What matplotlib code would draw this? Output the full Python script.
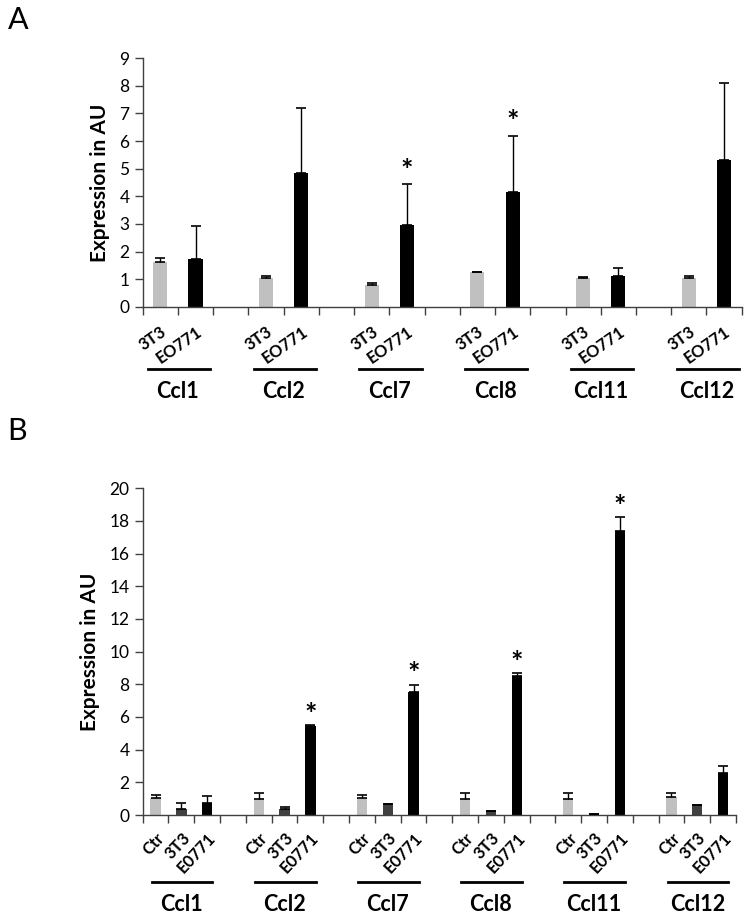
import numpy as np
import matplotlib
matplotlib.use('Agg')
import matplotlib.pyplot as plt
import matplotlib.transforms as mtransforms

plt.rcParams['font.family'] = ['Lato', 'DejaVu Sans']

genes = ['Ccl1', 'Ccl2', 'Ccl7', 'Ccl8', 'Ccl11', 'Ccl12']

# panel A : 3T3 vs EO771
a_labels = ['3T3', 'EO771']
a_3t3 = [1.64, 1.04, 0.79, 1.25, 1.06, 1.04]
a_3t3_err = [0.14, 0.08, 0.09, 0.02, 0.01, 0.08]
a_eo771 = [1.74, 4.83, 2.95, 4.15, 1.12, 5.30]
a_eo771_err = [1.20, 2.37, 1.48, 2.02, 0.28, 2.80]
a_sig = [False, False, True, True, False, False]

# panel B : Ctr vs 3T3 vs E0771
b_labels = ['Ctr', '3T3', 'E0771']
b_ctr = [1.02, 0.98, 1.02, 0.98, 0.98, 1.08]
b_ctr_err = [0.20, 0.35, 0.20, 0.35, 0.35, 0.25]
b_3t3 = [0.35, 0.39, 0.65, 0.24, 0.04, 0.59]
b_3t3_err = [0.36, 0.08, 0.02, 0.03, 0.0, 0.0]
b_e0771 = [0.76, 5.47, 7.51, 8.51, 17.41, 2.59]
b_e0771_err = [0.40, 0.03, 0.45, 0.16, 0.81, 0.41]
b_sig = [False, True, True, True, True, False]

light = '#c0c0c0'
dark = '#404040'
black = '#000000'


def draw_panel(ax, series, errs, colors, labels, sig, ymax, ystep,
               rot, pad, line_y, text_y, line_span, star_off):
    n = len(series)
    nslots = len(genes) * (n + 1) - 1
    centers, ticklabels = [], []
    for j, (vals, err, col) in enumerate(zip(series, errs, colors)):
        x = np.arange(len(genes)) * (n + 1) + j + 0.5
        ax.bar(x, vals, width=0.4, color=col, zorder=2)
        ax.errorbar(x, vals, yerr=[np.zeros(len(err)), err], fmt='none',
                    ecolor='black', elinewidth=1, capsize=3.5, capthick=1.2, zorder=3)
        centers += list(x)
        ticklabels += [labels[j]] * len(genes)
    # significance stars on the last series
    last_x = np.arange(len(genes)) * (n + 1) + (n - 1) + 0.5
    for g in range(len(genes)):
        if sig[g]:
            top = series[-1][g] + errs[-1][g]
            ax.text(last_x[g], top + star_off, '*', ha='center', va='center',
                    fontsize=21, fontweight='bold')

    ax.set_xlim(0, nslots)
    ax.set_ylim(0, ymax)
    ax.set_yticks(np.arange(0, ymax + 0.1, ystep))
    ax.set_xticks(centers)
    ax.set_xticklabels(ticklabels, rotation=rot, ha='right',
                       rotation_mode='anchor', fontsize=12, fontweight='bold')
    ax.set_xticks(np.arange(0, nslots + 1), minor=True)
    ax.tick_params(axis='x', which='major', length=0, pad=pad)
    ax.tick_params(axis='x', which='minor', length=6, width=1, color='#404040')
    ax.tick_params(axis='y', length=6, width=1, color='#404040', labelsize=12.5)
    ax.set_ylabel('Expression in AU', fontsize=15, fontweight='bold', labelpad=7)
    for s in ['top', 'right']:
        ax.spines[s].set_visible(False)
    for s in ['left', 'bottom']:
        ax.spines[s].set_color('#404040')
        ax.spines[s].set_linewidth(1)

    trans = mtransforms.blended_transform_factory(ax.transData, ax.transAxes)
    for g, name in enumerate(genes):
        start = g * (n + 1)
        ax.plot([start + line_span[0], start + line_span[1]], [line_y, line_y],
                color='black', lw=2, transform=trans, clip_on=False)
        ax.text(start + n / 2, text_y, name, transform=trans, ha='center',
                va='center', fontsize=15.5, fontweight='bold')


fig = plt.figure(figsize=(7.51, 9.18), dpi=100)
axA = fig.add_axes([0.19, 0.6656, 0.7976, 0.2712])
axB = fig.add_axes([0.19, 0.1122, 0.790, 0.3559])

draw_panel(axA, [a_3t3, a_eo771], [a_3t3_err, a_eo771_err], [light, black],
           a_labels, a_sig, 9, 1, 35, 12, -0.249, -0.34, (0.15, 1.92), 0.5)
draw_panel(axB, [b_ctr, b_3t3, b_e0771], [b_ctr_err, b_3t3_err, b_e0771_err],
           [light, dark, black], b_labels, b_sig, 20, 2, 47, 10.5, -0.204, -0.275,
           (0.35, 2.7), 0.65)

fig.text(0.010, 0.978, 'A', fontsize=22, ha='left', va='center')
fig.text(0.010, 0.531, 'B', fontsize=22, ha='left', va='center')

fig.savefig('out.png', dpi=100)
